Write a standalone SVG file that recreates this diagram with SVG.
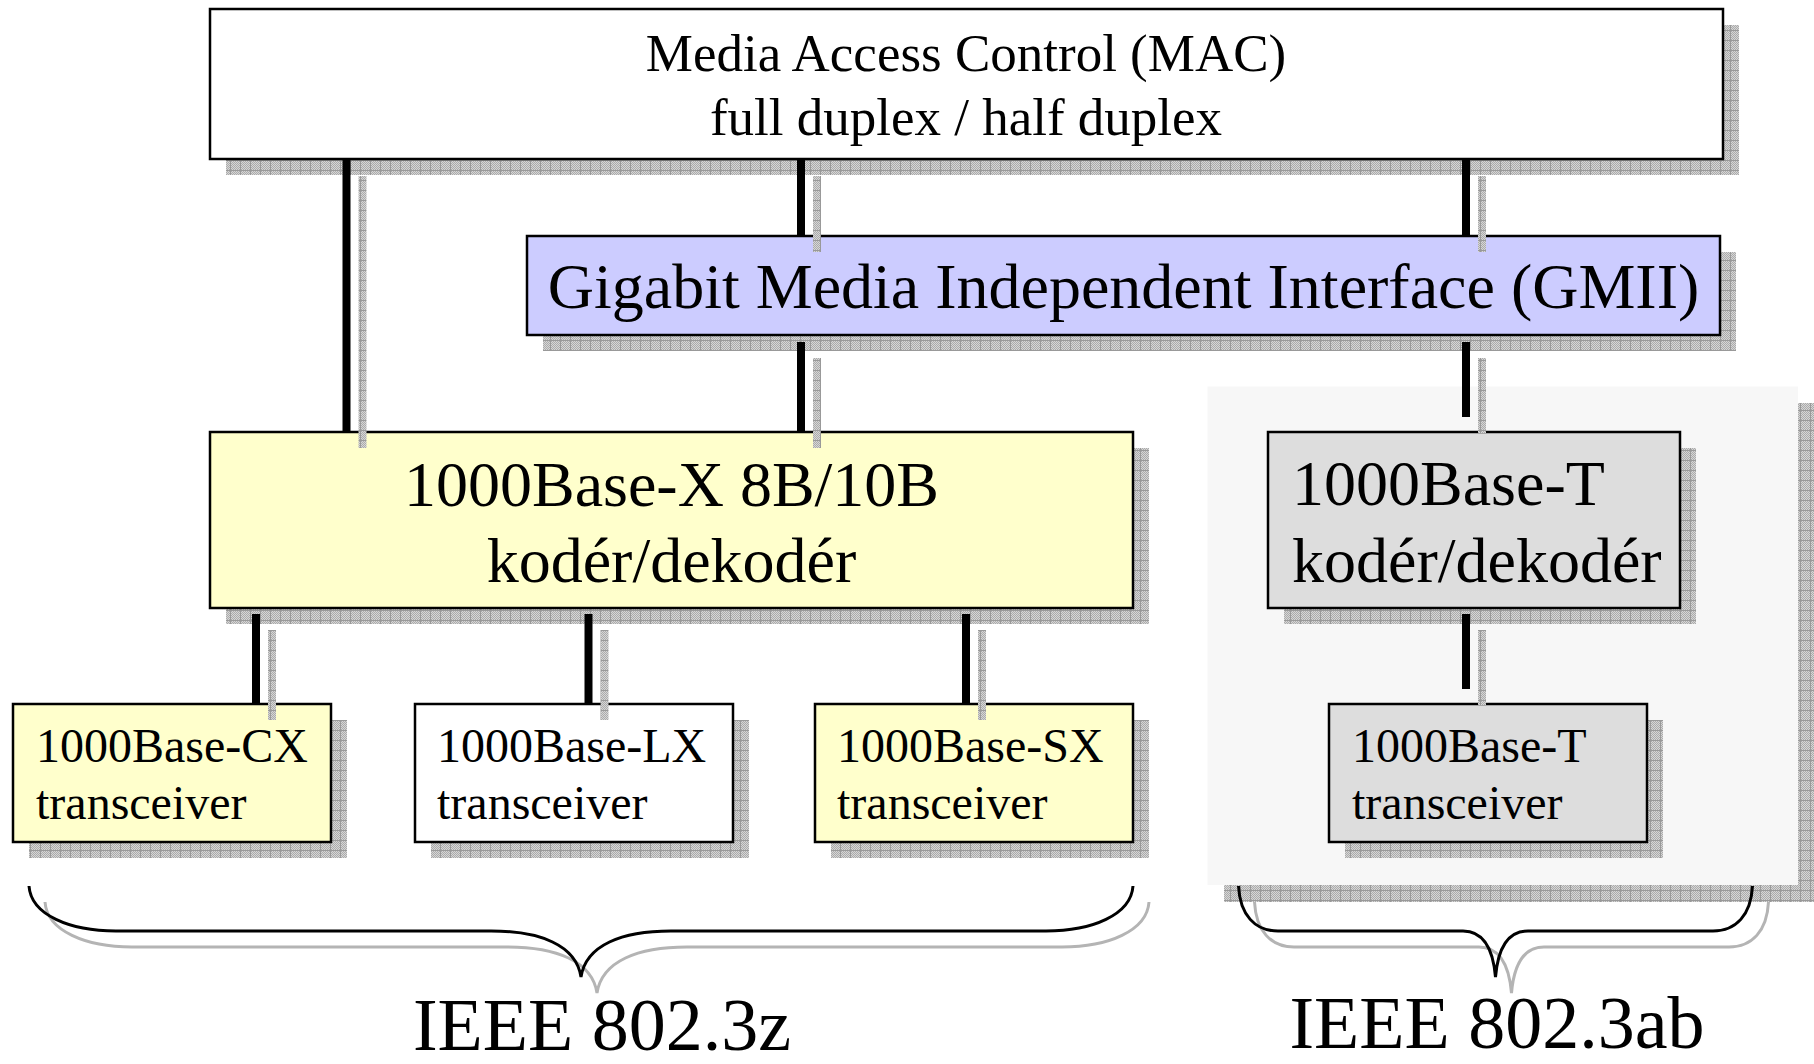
<svg xmlns="http://www.w3.org/2000/svg" width="1814" height="1064" viewBox="0 0 1814 1064">
<style>
text{font-family:"Liberation Serif","Times New Roman",serif;fill:#000}
.box{stroke:#000;stroke-width:2.5}
.sh{fill:url(#hatch)}
.wire{fill:#000}
.brace{fill:none;stroke:#000;stroke-width:3}
.braceSh{fill:none;stroke:#b4b4b4;stroke-width:3}
.t53{font-size:53px}
.t64{font-size:64px}
.t48{font-size:48px}
.t74{font-size:74px}
</style>
<defs>
<pattern id="dither" width="2" height="2" patternUnits="userSpaceOnUse">
<rect width="2" height="2" fill="#d6d6d6"/>
<rect width="1" height="1" fill="#ababab"/>
<rect x="1" y="1" width="1" height="1" fill="#ababab"/>
</pattern>
<pattern id="hatch" width="10" height="10" patternUnits="userSpaceOnUse">
<rect width="10" height="10" fill="url(#dither)"/>
<path d="M0 0.5H10M0.5 0V10" stroke="#999" stroke-width="1"/>
</pattern>
</defs>
<rect width="1814" height="1064" fill="#fff"/>

<g id="ieee-802-3ab-region">
<rect class="sh" x="1224" y="403" width="590" height="499"/>
<rect x="1207.5" y="386.5" width="590.5" height="498.5" fill="#f7f7f7"/>
</g>

<g id="mac">
<rect class="sh" x="226" y="25" width="1513" height="150"/>
<rect class="box" x="210" y="9" width="1513" height="150" fill="#fff"/>
<text class="t53" x="966" y="71" text-anchor="middle">Media Access Control (MAC)</text>
<text class="t53" x="966" y="135" text-anchor="middle">full duplex / half duplex</text>
</g>

<g id="gmii">
<rect class="sh" x="543" y="252" width="1193" height="99"/>
<rect class="box" x="527" y="236" width="1193" height="99" fill="#ccccff"/>
<text class="t64" x="1123.5" y="308" text-anchor="middle">Gigabit Media Independent Interface (GMII)</text>
</g>

<g id="base-x-coder">
<rect class="sh" x="226" y="448" width="923" height="176"/>
<rect class="box" x="210" y="432" width="923" height="176" fill="#ffffcc"/>
<text class="t64" x="671.5" y="506" text-anchor="middle">1000Base-X 8B/10B</text>
<text class="t64" x="671.5" y="582" text-anchor="middle">kodér/dekodér</text>
</g>

<g id="base-t-coder">
<rect class="sh" x="1284" y="448" width="412" height="176"/>
<rect class="box" x="1268" y="432" width="412" height="176" fill="#dddddd"/>
<text class="t64" x="1292" y="505">1000Base-T</text>
<text class="t64" x="1292" y="582">kodér/dekodér</text>
</g>

<g id="cx-transceiver">
<rect class="sh" x="29" y="720" width="318" height="138"/>
<rect class="box" x="13" y="704" width="318" height="138" fill="#ffffcc"/>
<text class="t48" x="36" y="762">1000Base-CX</text>
<text class="t48" x="36" y="819">transceiver</text>
</g>

<g id="lx-transceiver">
<rect class="sh" x="431" y="720" width="318" height="138"/>
<rect class="box" x="415" y="704" width="318" height="138" fill="#fff"/>
<text class="t48" x="437" y="762">1000Base-LX</text>
<text class="t48" x="437" y="819">transceiver</text>
</g>

<g id="sx-transceiver">
<rect class="sh" x="831" y="720" width="318" height="138"/>
<rect class="box" x="815" y="704" width="318" height="138" fill="#ffffcc"/>
<text class="t48" x="837" y="762">1000Base-SX</text>
<text class="t48" x="837" y="819">transceiver</text>
</g>

<g id="t-transceiver">
<rect class="sh" x="1345" y="720" width="318" height="138"/>
<rect class="box" x="1329" y="704" width="318" height="138" fill="#dddddd"/>
<text class="t48" x="1352" y="762">1000Base-T</text>
<text class="t48" x="1352" y="819">transceiver</text>
</g>

<g id="connectors">
<rect class="sh" x="358.5" y="176" width="8" height="272"/>
<rect class="wire" x="342.5" y="160" width="8" height="272"/>
<rect class="sh" x="813" y="176" width="8" height="76"/>
<rect class="wire" x="797" y="160" width="8" height="76"/>
<rect class="sh" x="1478" y="176" width="8" height="76"/>
<rect class="wire" x="1462" y="160" width="8" height="76"/>
<rect class="sh" x="813" y="358" width="8" height="90"/>
<rect class="wire" x="797" y="342" width="8" height="90"/>
<rect class="sh" x="1478" y="358" width="8" height="75"/>
<rect class="wire" x="1462" y="342" width="8" height="75"/>
<rect class="sh" x="268" y="630" width="8" height="90"/>
<rect class="wire" x="252" y="614" width="8" height="90"/>
<rect class="sh" x="600.5" y="630" width="8" height="90"/>
<rect class="wire" x="584.5" y="614" width="8" height="90"/>
<rect class="sh" x="978" y="630" width="8" height="90"/>
<rect class="wire" x="962" y="614" width="8" height="90"/>
<rect class="sh" x="1478" y="630" width="8" height="75"/>
<rect class="wire" x="1462" y="614" width="8" height="75"/>
</g>

<g id="brace-802-3z">
<path class="braceSh" transform="translate(16,16)" d="M29,886 C31,915 70,931 116,931 L491,931 C540,931 576,945 581,977 C586,945 622,931 671,931 L1046,931 C1092,931 1131,915 1133,886"/>
<path class="brace" d="M29,886 C31,915 70,931 116,931 L491,931 C540,931 576,945 581,977 C586,945 622,931 671,931 L1046,931 C1092,931 1131,915 1133,886"/>
<text class="t74" x="602" y="1050" text-anchor="middle">IEEE 802.3z</text>
</g>

<g id="brace-802-3ab">
<path class="braceSh" transform="translate(16,16)" d="M1238.5,886 C1240,915 1255,931 1278,931 L1463,931 C1483,931 1493,948 1495.5,977 C1498,948 1508,931 1528,931 L1713,931 C1736,931 1751,915 1752.5,886"/>
<path class="brace" d="M1238.5,886 C1240,915 1255,931 1278,931 L1463,931 C1483,931 1493,948 1495.5,977 C1498,948 1508,931 1528,931 L1713,931 C1736,931 1751,915 1752.5,886"/>
<text class="t74" x="1497" y="1048" text-anchor="middle">IEEE 802.3ab</text>
</g>
</svg>
